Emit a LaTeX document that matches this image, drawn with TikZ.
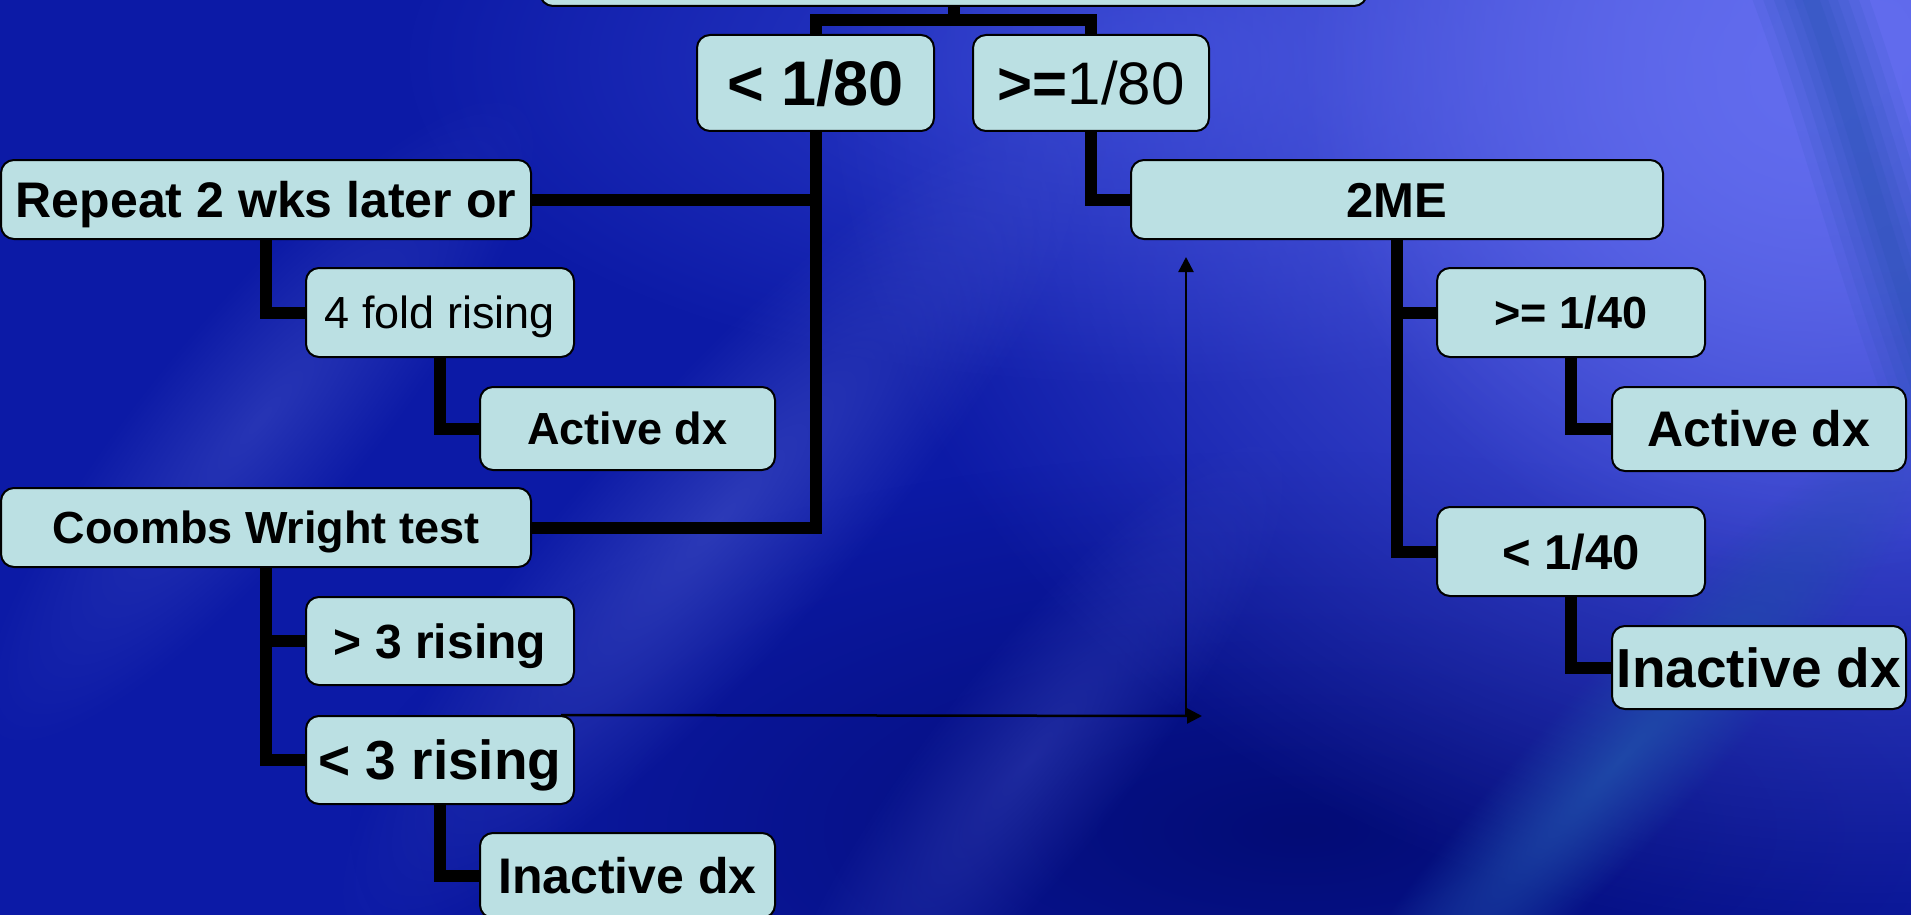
\documentclass[tikz,border=0pt]{standalone}
\usepackage{fontspec}
\setmainfont{Liberation Sans}
\usetikzlibrary{arrows.meta,fadings}

\definecolor{bgbase}{RGB}{12,26,166}
\definecolor{bgdeep}{RGB}{3,12,118}
\definecolor{bglight}{RGB}{98,108,238}
\definecolor{bgmid}{RGB}{50,66,208}
\definecolor{bgstreak}{RGB}{66,80,196}
\definecolor{bgteal}{RGB}{32,78,170}
\definecolor{boxfill}{RGB}{187,224,227}

\tikzfading[name=softblob, inner color=transparent!0, outer color=transparent!100]

\begin{document}
\begin{tikzpicture}[x=1pt,y=-1pt,
  box/.style={draw=black, line width=2pt, fill=boxfill, rounded corners=13pt,
              inner sep=0pt, text depth=0pt, align=center},
  conn/.style={draw=black, line width=12pt, line join=miter},
  linkarrow/.style={draw=black, line width=2.5pt, -{Triangle[length=15pt,width=15pt]}}]

\clip (0,0) rectangle (1911,915);

% backdrop
\fill[bgbase] (0,0) rectangle (1911,915);
\fill[bgdeep, path fading=softblob] (1300,830) ellipse (950 and 380);
\fill[bgmid, path fading=softblob, opacity=0.9] (1150,60) ellipse (760 and 330);
\fill[bglight, path fading=softblob] (1870,40) ellipse (1050 and 900);
\fill[bglight, path fading=softblob] (1800,80) ellipse (500 and 500);
\begin{scope}[transform canvas={rotate around={48:(720,520)}}]
  \fill[bgstreak, path fading=softblob, opacity=0.6] (720,520) ellipse (560 and 130);
\end{scope}
\begin{scope}[transform canvas={rotate around={50:(260,420)}}]
  \fill[bgstreak, path fading=softblob, opacity=0.5] (260,420) ellipse (420 and 110);
\end{scope}
\begin{scope}[transform canvas={rotate around={52:(1030,760)}}]
  \fill[bgstreak, path fading=softblob, opacity=0.4] (1030,760) ellipse (420 and 100);
\end{scope}
\begin{scope}[transform canvas={rotate around={47:(1620,760)}}]
  \fill[bgteal, path fading=softblob, opacity=0.85] (1620,760) ellipse (480 and 80);
\end{scope}
\foreach \w/\o in {110/0.1, 90/0.11, 70/0.12, 50/0.13, 32/0.14, 16/0.14}
  \draw[bgteal, line width=\w pt, opacity=\o, line cap=round]
    (1800,-30) .. controls (1850,100) and (1880,230) .. (1945,410);

% boxes
\node[box, minimum width=827pt, minimum height=100pt] (top) at (953.5,-44) {};
\node[box, minimum width=237pt, minimum height=96pt, font=\fontsize{63}{63}\selectfont\bfseries, text height=45pt] (lt80) at (815.5,83) {< 1/80};
\node[box, minimum width=236pt, minimum height=96pt, font=\fontsize{60}{60}\selectfont, text height=43pt] (ge80) at (1091,83) {{\bfseries >=}1/80};

\node[box, minimum width=530pt, minimum height=79pt, font=\fontsize{50}{50}\selectfont\bfseries, text height=35.8pt] (repeat) at (266,199.5) {Repeat 2 wks later or};
\node[box, minimum width=268pt, minimum height=89pt, font=\fontsize{45}{45}\selectfont, text height=32.2pt] (fold) at (440,312.5) {4 fold rising};
\node[box, minimum width=295pt, minimum height=83pt, font=\fontsize{45}{45}\selectfont\bfseries, text height=32.2pt] (actL) at (627.5,428.5) {Active dx};
\node[box, minimum width=530pt, minimum height=79pt, font=\fontsize{45}{45}\selectfont\bfseries, text height=32.2pt] (coombs) at (266,527.5) {Coombs Wright test};
\node[box, minimum width=268pt, minimum height=88pt, font=\fontsize{48}{48}\selectfont\bfseries, text height=34.4pt] (gt3) at (440,641) {> 3 rising};
\node[box, minimum width=268pt, minimum height=88pt, font=\fontsize{55}{55}\selectfont\bfseries, text height=39.4pt] (lt3) at (440,760) {< 3 rising};
\node[box, minimum width=295pt, minimum height=85pt, font=\fontsize{50}{50}\selectfont\bfseries, text height=35.8pt] (inactL) at (627.5,875.5) {Inactive dx};

\node[box, minimum width=532pt, minimum height=79pt, font=\fontsize{49}{49}\selectfont\bfseries, text height=35.1pt] (me) at (1397,199.5) {2ME};
\node[box, minimum width=268pt, minimum height=89pt, font=\fontsize{45}{45}\selectfont\bfseries, text height=32.2pt] (ge40) at (1571,312.5) {>= 1/40};
\node[box, minimum width=294pt, minimum height=84pt, font=\fontsize{50}{50}\selectfont\bfseries, text height=35.8pt] (actR) at (1759,429) {Active dx};
\node[box, minimum width=268pt, minimum height=89pt, font=\fontsize{49}{49}\selectfont\bfseries, text height=35.1pt] (lt40) at (1571,551.5) {< 1/40};
\node[box, minimum width=294pt, minimum height=83pt, font=\fontsize{55}{55}\selectfont\bfseries, text height=39.4pt] (inactR) at (1759,667.5) {Inactive dx};

% tree connectors
\draw[conn] (lt80.north) -- ++(0,-14) coordinate (barL) -| (ge80.north);
\draw[conn] (top.south) -- (top.south |- barL);
\draw[conn] (lt80.south) |- (coombs.east);
\draw[conn] (repeat.east) -- (repeat.east -| lt80.south);
\draw[conn] (ge80.south) |- (me.west);
\draw[conn] (repeat.south) |- (fold.west);
\draw[conn] (fold.south) |- (actL.west);
\draw[conn] (coombs.south) |- (gt3.west);
\draw[conn] (coombs.south) |- (lt3.west);
\draw[conn] (lt3.south) |- (inactL.west);
\draw[conn] (me.south) |- (ge40.west);
\draw[conn] (me.south) |- (lt40.west);
\draw[conn] (ge40.south) |- (actR.west);
\draw[conn] (lt40.south) |- (inactR.west);

% return link towards 2ME
\coordinate (elbow) at (1186,716);
\coordinate (tipR) at (1202,716);
\coordinate (tipU) at (1186,257);
\draw[linkarrow] ([xshift=-14pt]lt3.north east) -- (tipR);
\draw[linkarrow] (elbow) -- (tipU);
\end{tikzpicture}
\end{document}
